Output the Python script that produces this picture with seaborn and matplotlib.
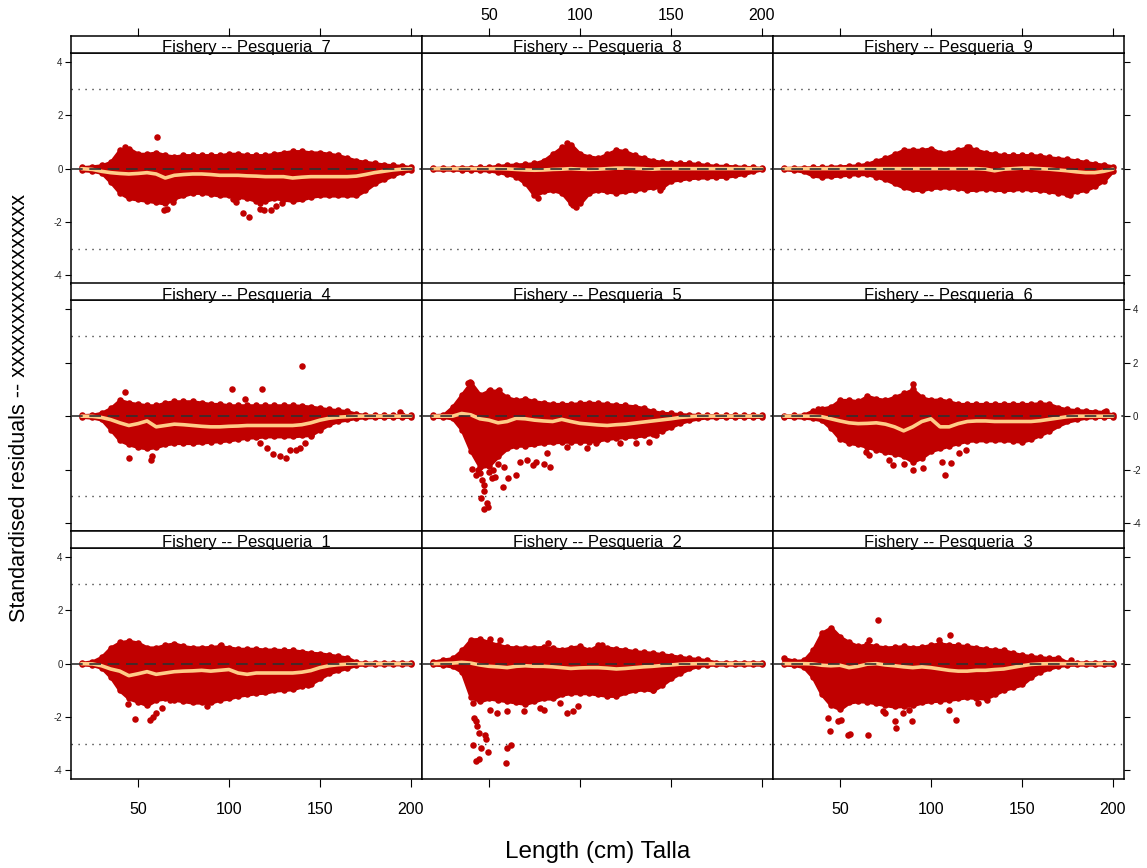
import matplotlib
matplotlib.use("Agg")
import matplotlib.pyplot as plt
import seaborn as sns

# Style
sns.set_theme(style="white")
plt.rcParams['font.family'] = ['Liberation Sans', 'DejaVu Sans']
plt.rcParams['axes.unicode_minus'] = False

RED = "#C00000"
ORANGE = "#FFCC88"

# Length grid (cm) at which the residual cloud edges and the smoother were read
LENGTH = [19, 25, 30, 35, 40, 45, 50, 55, 60, 65, 70, 75, 80, 85, 90, 95, 100, 105, 110,
          115, 120, 125, 130, 135, 140, 145, 150, 155, 160, 165, 170, 175, 180, 185, 190, 195, 200]

# Fishery 7
UP_7 = [.05, .08, .12, .25, .7, .75, .55, .55, .6, .5, .45, .5, .5, .5, .5, .5, .55, .55, .5,
        .5, .5, .55, .6, .65, .65, .6, .6, .55, .5, .4, .3, .25, .2, .15, .12, .1, .05]
LO_7 = [-.05, -.08, -.15, -.5, -.9, -1.1, -1.15, -1.2, -1.25, -1.3, -1.1, -1.0, -.9, -.9, -.95, -1.0, -1.0, -1.05, -1.1,
        -1.2, -1.2, -1.1, -1.15, -1.2, -1.15, -1.05, -1.0, -1.0, -1.0, -1.0, -1.0, -.8, -.55, -.4, -.25, -.12, -.05]
FIT_7 = [0, -.03, -.1, -.15, -.18, -.2, -.18, -.15, -.2, -.35, -.25, -.22, -.2, -.2, -.22, -.25, -.25, -.25, -.27,
         -.28, -.3, -.3, -.3, -.35, -.32, -.3, -.3, -.3, -.3, -.3, -.28, -.22, -.15, -.1, -.05, -.02, 0]
OUT_LEN_7 = [43, 60.3, 64.3, 66, 69, 102, 104, 108, 111, 117, 117, 119, 123, 126, 129]
OUT_RES_7 = [.82, 1.2, -1.55, -1.5, -1.25, -1.15, -1.25, -1.65, -1.8, -1.3, -1.5, -1.55, -1.55, -1.4, -1.3]

# Fishery 8
UP_8 = [.02, .03, .03, .04, .04, .05, .06, .1, .13, .15, .17, .2, .3, .55, .8, .9, .55, .45, .4,
        .55, .7, .65, .5, .4, .3, .25, .22, .2, .2, .17, .13, .1, .1, .08, .06, .05, .02]
LO_8 = [-.03, -.03, -.03, -.04, -.04, -.05, -.06, -.12, -.2, -.3, -.55, -1.0, -.85, -.8, -.9, -1.3, -1.3, -.9, -.8,
        -.85, -.9, -.85, -.8, -.75, -.7, -.7, -.45, -.4, -.35, -.33, -.32, -.3, -.3, -.25, -.2, -.1, -.02]
FIT_8 = [0, 0, 0, 0, 0, 0, 0, 0, -.01, -.03, -.05, -.06, -.05, -.03, -.02, 0, -.02, -.03, -.02,
         0, .02, .02, .01, 0, -.02, 0, 0, 0, 0, 0, 0, 0, 0, 0, 0, 0, 0]
OUT_LEN_8 = [77, 96, 98, 93, 144]
OUT_RES_8 = [-1.1, -1.35, -1.45, .95, -.8]

# Fishery 9
UP_9 = [.02, .03, .04, .05, .05, .07, .08, .1, .12, .18, .3, .4, .55, .7, .7, .7, .75, .6, .6,
        .7, .8, .7, .6, .55, .5, .5, .5, .5, .48, .42, .38, .35, .3, .25, .18, .14, .08]
LO_9 = [-.02, -.05, -.1, -.25, -.3, -.28, -.25, -.22, -.2, -.2, -.3, -.4, -.55, -.7, -.78, -.8, -.72, -.7, -.7,
        -.72, -.8, -.78, -.75, -.78, -.8, -.78, -.75, -.78, -.8, -.85, -.9, -.95, -.85, -.8, -.65, -.45, -.08]
FIT_9 = [0, 0, 0, 0, 0, 0, 0, 0, 0, 0, 0, 0, 0, 0, 0, 0, 0, 0, 0,
         0, 0, 0, -.02, -.08, -.02, 0, .02, .02, 0, -.02, -.05, -.08, -.12, -.15, -.15, -.1, -.02]
OUT_LEN_9 = [121, 176.5]
OUT_RES_9 = [.82, -.98]

# Fishery 4
UP_4 = [.03, .05, .12, .3, .6, .5, .45, .4, .4, .5, .55, .55, .55, .5, .45, .45, .4, .4, .4,
        .4, .4, .4, .4, .4, .38, .35, .3, .25, .22, .18, .08, .04, .03, .03, .03, .04, .03]
LO_4 = [-.02, -.05, -.12, -.5, -.9, -1.05, -1.15, -1.2, -1.15, -1.05, -1.0, -1.0, -1.0, -.98, -.95, -.93, -.9, -.85, -.8,
        -.78, -.75, -.75, -.75, -.75, -.72, -.7, -.5, -.3, -.18, -.12, -.06, -.04, -.03, -.02, -.02, -.02, -.02]
FIT_4 = [0, -.01, -.05, -.13, -.25, -.35, -.28, -.18, -.4, -.35, -.3, -.32, -.35, -.38, -.4, -.4, -.38, -.37, -.35,
         -.35, -.35, -.35, -.35, -.35, -.32, -.25, -.15, -.08, -.04, -.02, 0, 0, 0, 0, 0, 0, 0]
OUT_LEN_4 = [43, 101.8, 109, 118, 140, 194, 45, 57, 57.5, 117, 120.7, 124, 128, 131.5, 133.5, 137, 139, 142, 145]
OUT_RES_4 = [.9, 1.0, .63, 1.0, 1.88, .15, -1.57, -1.64, -1.5, -1.0, -1.2, -1.4, -1.5, -1.58, -1.26, -1.25, -1.2, -1.0, -.76]

# Fishery 5
UP_5 = [.03, .05, .35, .8, 1.25, .8, .95, .95, .7, .6, .65, .55, .5, .45, .45, .45, .48, .5, .48,
        .45, .42, .4, .36, .3, .18, .12, .1, .07, .05, .04, .03, .03, .03, .03, .03, .03, .03]
LO_5 = [-.02, -.03, -.08, -.5, -1.3, -1.9, -1.85, -1.5, -1.2, -1.1, -1.1, -1.05, -1.0, -.98, -.95, -.95, -.95, -.95, -.9,
        -.85, -.8, -.78, -.75, -.72, -.65, -.55, -.4, -.25, -.15, -.08, -.04, -.03, -.02, -.02, -.02, -.02, -.02]
FIT_5 = [0, 0, 0, .1, .05, -.1, -.15, -.25, -.2, -.08, -.1, -.15, -.18, -.2, -.12, -.2, -.27, -.3, -.33,
         -.35, -.32, -.3, -.26, -.22, -.18, -.14, -.1, -.05, -.02, 0, 0, 0, 0, 0, 0, 0, 0]
OUT_LEN_5 = [40.5, 45, 46, 47, 47.4, 45.4, 48.7, 47.2, 49.6, 51.5, 53.3, 57.5, 60.6, 65, 67, 70.7,
             74, 76, 80, 83.6, 81.7, 92.8, 103.8, 109, 122, 131, 137.7, 142, 50.5, 55.5, 39.5, 38.5,
             43, 44, 50, 52, 55, 58]
OUT_RES_5 = [-1.98, -2.14, -2.39, -2.58, -2.8, -3.08, -3.26, -3.49, -3.39, -2.33, -2.26, -2.64, -2.33, -2.2, -1.7, -1.64,
             -1.83, -1.7, -1.8, -1.91, -1.39, -1.14, -1.2, -1.01, -1.01, -1.01, -.95, -.7, .99, .99, 1.28, 1.24,
             -2.2, -2.0, -2.1, -2.0, -1.8, -1.9]

# Fishery 6
UP_6 = [.02, .03, .05, .2, .28, .35, .6, .6, .55, .75, .65, .6, .72, .85, 1.0, .7, .6, .62, .55,
        .45, .45, .45, .45, .45, .45, .45, .45, .45, .48, .45, .32, .25, .22, .2, .17, .15, .05]
LO_6 = [-.02, -.03, -.05, -.08, -.15, -.45, -.85, -1.0, -1.05, -1.15, -1.25, -1.35, -1.4, -1.5, -1.7, -1.55, -1.3, -1.2, -1.1,
        -1.0, -.92, -.9, -.9, -.9, -.9, -.92, -.95, -.85, -.7, -.55, -.35, -.2, -.12, -.05, -.03, -.02, -.02]
FIT_6 = [0, 0, 0, 0, -.02, -.1, -.18, -.25, -.28, -.27, -.25, -.3, -.4, -.55, -.4, -.2, -.1, -.4, -.4,
         -.28, -.2, -.18, -.18, -.2, -.2, -.2, -.2, -.2, -.17, -.12, -.07, -.02, 0, 0, 0, 0, 0]
OUT_LEN_6 = [64.3, 66, 77, 79, 85, 90, 95.4, 106, 108, 111, 115.6, 119, 37.7, 196, 90]
OUT_RES_6 = [-1.33, -1.45, -1.64, -1.83, -1.8, -2.0, -1.93, -1.7, -2.2, -1.76, -1.39, -1.26, .28, .18, 1.2]

# Fishery 1
UP_1 = [.03, .08, .25, .6, .8, .85, .78, .6, .6, .7, .75, .65, .6, .6, .62, .65, .6, .55, .55,
        .55, .52, .52, .5, .5, .45, .4, .38, .33, .28, .22, .05, .03, .03, .03, .03, .03, .03]
LO_1 = [-.02, -.05, -.15, -.5, -1.0, -1.3, -1.42, -1.55, -1.35, -1.3, -1.35, -1.4, -1.45, -1.45, -1.45, -1.35, -1.3, -1.2, -1.15,
        -1.1, -1.08, -1.0, -.98, -.95, -.85, -.75, -.55, -.35, -.25, -.15, -.04, -.03, -.02, -.02, -.02, -.02, -.02]
FIT_1 = [0, -.01, -.08, -.2, -.28, -.45, -.38, -.3, -.4, -.35, -.3, -.28, -.27, -.25, -.28, -.25, -.22, -.35, -.4,
         -.35, -.35, -.35, -.35, -.35, -.32, -.26, -.15, -.08, -.04, -.02, 0, 0, 0, 0, 0, 0, 0]
OUT_LEN_1 = [48.2, 56.6, 58.4, 60, 63, 67.6, 87.7, 143.6, 95.4, 44.7]
OUT_RES_1 = [-2.09, -2.1, -1.98, -1.83, -1.66, -1.35, -1.6, -.79, .68, -1.51]

# Fishery 2
UP_2 = [.06, .15, .2, .5, .9, .92, .8, .7, .62, .6, .6, .6, .62, .58, .52, .6, .65, .5, .68,
        .6, .55, .52, .46, .43, .4, .35, .3, .25, .2, .17, .12, .04, .04, .04, .04, .04, .04]
LO_2 = [-.03, -.05, -.1, -.3, -1.25, -1.4, -1.3, -1.35, -1.4, -1.45, -1.5, -1.4, -1.3, -1.3, -1.15, -1.1, -1.1, -1.1, -1.15,
        -1.2, -1.2, -1.08, -1.0, -.95, -1.0, -.8, -.55, -.35, -.18, -.08, -.04, -.03, -.03, -.03, -.03, -.03, -.03]
FIT_2 = [0, .01, .02, .05, .02, -.05, -.1, -.12, -.15, -.1, -.08, -.1, -.1, -.12, -.15, -.18, -.16, -.15, -.15,
         -.17, -.2, -.18, -.15, -.12, -.1, -.07, -.05, -.02, -.01, 0, 0, 0, 0, 0, 0, 0, 0]
OUT_LEN_2 = [41.4, 42, 42.8, 43.6, 44.7, 48, 48.3, 41.4, 45.4, 49.6, 42.8, 44.7, 59.4, 60, 62, 50.5,
             54.6, 60, 69, 78, 80.5, 89, 93, 96.4, 99, 50.5, 56, 82.3, 112, 134, 140]
OUT_RES_2 = [-1.48, -2.04, -2.16, -2.35, -2.6, -2.66, -2.83, -3.04, -3.16, -3.29, -3.66, -3.58, -3.73, -3.16, -3.04, -1.73,
             -1.85, -1.79, -1.79, -1.66, -1.73, -1.48, -1.85, -1.79, -1.6, .93, .88, .78, .71, -.91, -.98]

# Fishery 3
UP_3 = [.2, .1, .12, .5, 1.15, 1.35, 1.0, .8, .65, .72, .65, .6, .62, .65, .6, .62, .7, .75, .7,
        .68, .65, .6, .55, .52, .5, .4, .32, .28, .24, .2, .22, .04, .04, .04, .04, .04, .04]
LO_3 = [-.03, -.05, -.12, -.5, -1.15, -1.55, -1.7, -1.45, -1.4, -1.42, -1.48, -1.55, -1.6, -1.58, -1.55, -1.45, -1.4, -1.38, -1.35,
        -1.3, -1.25, -1.28, -1.3, -1.15, -.98, -.88, -.78, -.5, -.3, -.18, -.08, -.04, -.03, -.03, -.03, -.03, -.03]
FIT_3 = [0, 0, 0, -.01, -.06, -.08, -.06, -.15, -.1, -.02, 0, -.05, -.08, -.12, -.15, -.12, -.15, -.2, -.25,
         -.28, -.28, -.25, -.25, -.22, -.2, -.14, -.08, -.03, -.01, 0, 0, 0, 0, 0, 0, 0, 0]
OUT_LEN_3 = [71, 66, 110.4, 104.6, 177, 44.5, 54.2, 55.5, 65.6, 43.2, 48.7, 50.5, 73.4, 75, 80, 81,
             89.6, 84.4, 88, 114, 109.7, 125.6, 131, 148.5, 150]
OUT_RES_3 = [1.63, .88, 1.06, .88, .15, -2.54, -2.69, -2.64, -2.68, -2.04, -2.16, -2.1, -1.79, -1.85, -2.16, -2.41,
             -2.16, -1.85, -1.73, -2.1, -1.73, -1.48, -1.35, -.73, -.66]

PANELS = {
    1: (UP_1, LO_1, FIT_1, OUT_LEN_1, OUT_RES_1),
    2: (UP_2, LO_2, FIT_2, OUT_LEN_2, OUT_RES_2),
    3: (UP_3, LO_3, FIT_3, OUT_LEN_3, OUT_RES_3),
    4: (UP_4, LO_4, FIT_4, OUT_LEN_4, OUT_RES_4),
    5: (UP_5, LO_5, FIT_5, OUT_LEN_5, OUT_RES_5),
    6: (UP_6, LO_6, FIT_6, OUT_LEN_6, OUT_RES_6),
    7: (UP_7, LO_7, FIT_7, OUT_LEN_7, OUT_RES_7),
    8: (UP_8, LO_8, FIT_8, OUT_LEN_8, OUT_RES_8),
    9: (UP_9, LO_9, FIT_9, OUT_LEN_9, OUT_RES_9),
}
LAYOUT = [[7, 8, 9], [4, 5, 6], [1, 2, 3]]

# Figure geometry in pixels
W, H = 1147, 868
COLS = [(71, 422), (422, 773), (773, 1124)]
ROWS = [(36, 53, 283.5), (283.5, 300.5, 531), (531, 548, 778.5)]


def box(x0, y0, x1, y1):
    return [x0 / W, 1 - y1 / H, (x1 - x0) / W, (y1 - y0) / H]


fig = plt.figure(figsize=(W / 100, H / 100), dpi=100)

for r, (s0, s1, p1) in enumerate(ROWS):
    for c, (x0, x1) in enumerate(COLS):
        n = LAYOUT[r][c]
        up, lo, fit, out_len, out_res = PANELS[n]
        ax = fig.add_axes(box(x0, s1, x1, p1))
        strip = fig.add_axes(box(x0, s0, x1, s1), sharex=ax)

        # residual cloud
        ax.fill_between(LENGTH, lo, up, color=RED, lw=2.5, edgecolor=RED, zorder=2)
        sns.scatterplot(x=LENGTH + LENGTH, y=up + lo, ax=ax, color=RED, s=22,
                        linewidth=0, legend=False, zorder=3)
        sns.scatterplot(x=out_len, y=out_res, ax=ax, color=RED, s=22,
                        linewidth=0, legend=False, zorder=3)
        # smoother
        sns.lineplot(x=LENGTH, y=fit, ax=ax, color=ORANGE, lw=2.6, zorder=4)
        # reference lines
        ax.axhline(0, color="#303030", lw=1.2, ls=(0, (7, 4)), zorder=5)
        for h in (-3, 3):
            ax.axhline(h, color="#444444", lw=1.0, ls=(0, (1, 4)), zorder=1)

        ax.set_xlim(13.2, 206.1)
        ax.set_ylim(-4.3, 4.33)
        ax.set_xticks([50, 100, 150, 200])
        ax.set_yticks([-4, -2, 0, 2, 4])
        ax.set_xlabel("")
        ax.set_ylabel("")
        ax.tick_params(axis="y", left=(c == 0), right=(c == 2),
                       labelleft=(c == 0 and r != 1), labelright=(c == 2 and r == 1),
                       direction="out", length=4, width=0.8, labelsize=7, pad=2,
                       colors="black", labelcolor="#222222")
        ax.tick_params(axis="x", bottom=(r == 2), top=False,
                       labelbottom=(r == 2 and c != 1), labeltop=False,
                       direction="out", length=6, width=0.8, labelsize=11.5, pad=11,
                       colors="black")
        for sp in ax.spines.values():
            sp.set_color("black")
            sp.set_linewidth(1.1)

        # strip
        strip.set_ylim(0, 1)
        strip.set_yticks([])
        strip.set_facecolor("white")
        strip.tick_params(axis="x", top=(r == 0), bottom=False,
                          labeltop=(r == 0 and c == 1), labelbottom=False,
                          direction="out", length=6, width=0.8, labelsize=11.5, pad=3,
                          colors="black")
        for sp in strip.spines.values():
            sp.set_color("black")
            sp.set_linewidth(1.1)
        strip.text(0.5, 0.04, f"Fishery -- Pesqueria  {n}", transform=strip.transAxes,
                   ha="center", va="baseline", fontsize=12, color="black")

fig.text(598 / W, 1 - 852 / H, "Length (cm) Talla", ha="center", va="center",
         fontsize=17.5, color="black")
fig.text(20 / W, 1 - 408 / H, "Standardised residuals -- xxxxxxxxxxxxxxxxx", ha="center",
         va="center", rotation=90, fontsize=15.5, color="black")

fig.savefig("out.png", dpi=100)
